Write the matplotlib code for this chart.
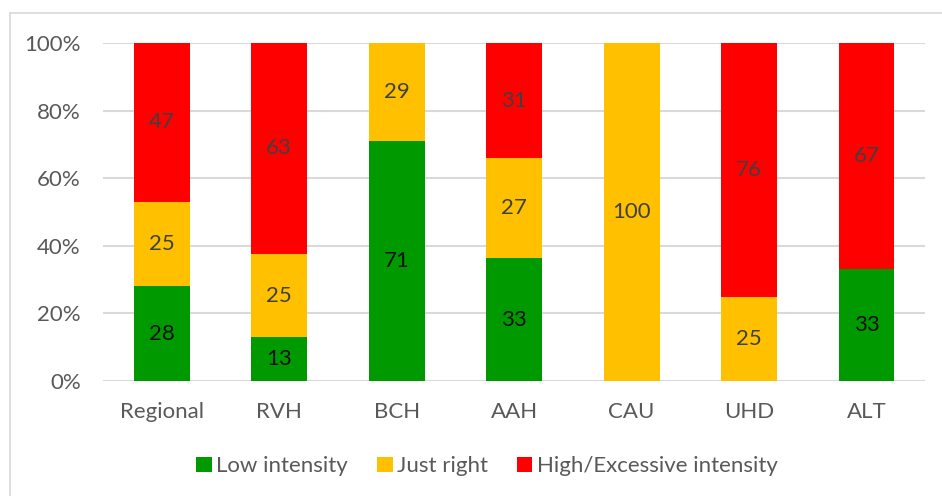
import matplotlib.pyplot as plt
from matplotlib.lines import Line2D
import numpy as np

plt.rcParams['font.family'] = ['Lato', 'DejaVu Sans']

sites = ['Regional', 'RVH', 'BCH', 'AAH', 'CAU', 'UHD', 'ALT']
low = [28, 13, 71, 33, 0, 0, 33]
just_right = [25, 25, 29, 27, 100, 25, 0]
high = [47, 63, 0, 31, 0, 76, 67]

series = [
    ('Low intensity', low, '#009a00', '#111111'),
    ('Just right', just_right, '#ffc000', '#404040'),
    ('High/Excessive intensity', high, '#ff0000', '#404040'),
]

totals = np.array(low) + np.array(just_right) + np.array(high)
x = np.arange(len(sites))

fig = plt.figure(figsize=(9.42, 4.96), dpi=100)
ax = fig.add_axes([0.1093, 0.2319, 0.873, 0.6815])

bottom = np.zeros(len(sites))
for name, vals, color, tcolor in series:
    vals = np.array(vals, dtype=float)
    pct = vals / totals * 100
    ax.bar(x, pct, 0.475, bottom=bottom, color=color, label=name, zorder=3)
    for xi, v, p, b in zip(x, vals, pct, bottom):
        if v > 0:
            ax.text(xi, b + p / 2, f'{int(v)}', ha='center', va='center',
                    fontsize=16, color=tcolor, zorder=4)
    bottom += pct

ax.set_xlim(-0.5, len(sites) - 0.5)
ax.set_ylim(0, 100)
ax.set_yticks(np.arange(0, 101, 20))
ax.set_yticklabels([f'{v}%' for v in range(0, 101, 20)])
ax.set_xticks(x)
ax.set_xticklabels(sites)
ax.tick_params(length=0, labelsize=16, colors='#595959')
ax.tick_params(axis='x', pad=15)
ax.tick_params(axis='y', pad=16)
ax.grid(axis='y', color='#d9d9d9', linewidth=1.5, zorder=0)
for s in ax.spines.values():
    s.set_visible(False)

fig.legend(loc='center', bbox_to_anchor=(0.517, 0.06), ncol=3, frameon=False,
           fontsize=16, handlelength=0.7, handleheight=0.7, handletextpad=0.2,
           columnspacing=1.3, labelcolor='#595959')

# thin outer frame on the top and left edges
fig.add_artist(Line2D([10 / 942, 1], [1 - 13 / 496] * 2, color='#d9d9d9', lw=1.2))
fig.add_artist(Line2D([10 / 942] * 2, [0, 1 - 13 / 496], color='#d9d9d9', lw=1.2))

fig.savefig('out.png', dpi=100)
